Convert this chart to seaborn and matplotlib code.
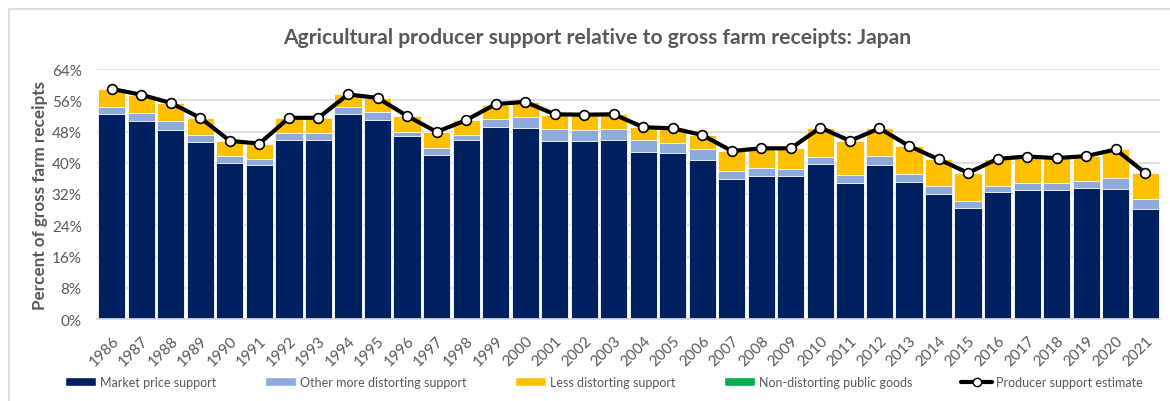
import numpy as np
import pandas as pd
import matplotlib
matplotlib.use("Agg")
import matplotlib.pyplot as plt
from matplotlib.patches import Patch, Rectangle
from matplotlib.lines import Line2D
from matplotlib.ticker import FuncFormatter
import seaborn as sns

years = [str(y) for y in range(1986, 2022)]
market_price_support = [52.5, 50.8, 48.4, 45.4, 40.0, 39.4, 45.9, 45.7, 52.6, 50.9,
                        46.8, 42.1, 45.7, 49.2, 49.0, 45.5, 45.5, 45.7, 42.8, 42.4,
                        40.8, 35.8, 36.7, 36.7, 39.8, 34.7, 39.3, 35.2, 32.0, 28.5,
                        32.4, 33.1, 33.0, 33.5, 33.4, 28.2]
other_distorting = [1.9, 1.9, 2.3, 1.7, 1.7, 1.6, 1.8, 2.0, 1.8, 2.0,
                    1.2, 1.6, 1.5, 2.0, 2.8, 3.1, 3.0, 2.9, 2.9, 2.6,
                    2.7, 2.0, 1.9, 1.8, 1.7, 2.2, 2.4, 1.8, 2.0, 1.7,
                    1.6, 1.8, 1.9, 1.9, 2.8, 2.5]
less_distorting = [4.5, 4.6, 4.7, 4.4, 3.9, 3.9, 3.8, 3.8, 3.1, 3.7,
                   4.0, 4.2, 3.7, 3.7, 3.7, 3.7, 3.8, 3.8, 3.4, 3.8,
                   3.6, 5.2, 5.1, 5.2, 7.5, 8.7, 7.1, 7.3, 6.9, 7.2,
                   7.0, 6.7, 6.3, 6.3, 7.2, 6.7]
non_distorting = [0.0] * 36
pse = [58.9, 57.4, 55.3, 51.5, 45.6, 44.9, 51.5, 51.5, 57.5, 56.6,
       52.0, 47.9, 50.9, 55.0, 55.6, 52.4, 52.3, 52.4, 49.1, 48.8,
       47.1, 43.0, 43.7, 43.7, 49.0, 45.6, 48.8, 44.3, 40.9, 37.4,
       41.0, 41.6, 41.2, 41.7, 43.4, 37.4]

labels = ["Market price support", "Other more distorting support",
          "Less distorting support", "Non-distorting public goods",
          "Producer support estimate"]
colors = ["#002060", "#8EA9DB", "#FFC000", "#00B050"]

df = pd.DataFrame({"year": years, "mps": market_price_support,
                   "other": other_distorting, "less": less_distorting,
                   "nd": non_distorting, "pse": pse})
df["c1"] = df["mps"]
df["c2"] = df["c1"] + df["other"]
df["c3"] = df["c2"] + df["less"]
df["c4"] = df["c3"] + df["nd"]

sns.set_theme(style="white")
plt.rcParams["font.family"] = ["Lato", "DejaVu Sans"]
gray = "#595959"

fig = plt.figure(figsize=(11.7, 4.02), dpi=100)
ax = fig.add_axes([97 / 1170, 1 - 320 / 402, (1160 - 97) / 1170, 250 / 402])

for col, c in zip(["c4", "c3", "c2", "c1"], colors[::-1]):
    sns.barplot(data=df, x="year", y=col, color=c, width=0.92, ax=ax,
                edgecolor="white", linewidth=0.6, saturation=1, zorder=2)

sns.pointplot(data=df, x="year", y="pse", color="black", ax=ax,
              markers="o", linestyles="-", linewidth=3, markersize=7,
              zorder=5)
for ln in ax.lines:
    ln.set_markerfacecolor("white")
    ln.set_markeredgecolor("black")
    ln.set_markeredgewidth(1.2)
for coll in ax.collections:
    coll.set_facecolor("white")
    coll.set_edgecolor("black")

ax.set_ylim(0, 64)
ax.set_xlim(-0.5, len(years) - 0.5)
ax.set_yticks(np.arange(0, 65, 8))
ax.yaxis.set_major_formatter(FuncFormatter(lambda v, p: f"{int(v)}%"))
ax.grid(axis="y", color="#d9d9d9", linewidth=1.2, zorder=0)
ax.set_axisbelow(True)
for s in ["top", "right", "left"]:
    ax.spines[s].set_visible(False)
ax.spines["bottom"].set_color("#d9d9d9")
ax.tick_params(axis="y", labelsize=11, labelcolor=gray, length=0, pad=11)
ax.tick_params(axis="x", labelsize=11, labelcolor=gray, length=0, pad=10)
plt.setp(ax.get_xticklabels(), rotation=45, ha="right", rotation_mode="anchor")
ax.set_xlabel("")
ax.set_ylabel("Percent of gross farm receipts", fontsize=12.3, fontweight="bold",
              color=gray, labelpad=3)

fig.text(0.51, 1 - 38 / 402, "Agricultural producer support relative to gross farm receipts: Japan",
         ha="center", va="center", fontsize=15.2, fontweight="bold", color=gray)

handles = [Patch(facecolor=c) for c in colors]
handles.append(Line2D([], [], color="black", linewidth=3, marker="o",
                      markerfacecolor="white", markeredgecolor="black", markersize=6))
leg = fig.legend(handles, labels, loc="center", ncol=5, frameon=False,
                 bbox_to_anchor=(0.516, 1 - 383 / 402), fontsize=9,
                 handlelength=2.5, handleheight=0.7, columnspacing=3.9,
                 handletextpad=0.3, labelcolor=gray)

fig.patches.append(Rectangle((9 / 1170, -0.1), 1.2, 1.1 - 10 / 402,
                             transform=fig.transFigure, fill=False,
                             edgecolor="#d9d9d9", linewidth=1.2, zorder=0))

fig.savefig("out.png", dpi=100, facecolor="white")
